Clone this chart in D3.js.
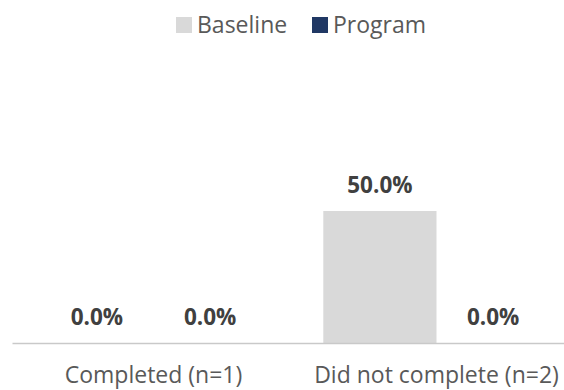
<!DOCTYPE html>
<html>
<head>
<meta charset="utf-8">
<script src="https://cdn.jsdelivr.net/npm/d3@7"></script>
<style>
  body { margin: 0; background: #fff; }
  text { font-family: "Open Sans", sans-serif; }
</style>
</head>
<body>
<div id="chart"></div>
<script>
let categories = ["Completed (n=1)", "Did not complete (n=2)"];
let series = ["Baseline", "Program"];
let baseline = [0.0, 0.5];
let program = [0.0, 0.0];
let colors = ["#d9d9d9", "#203864"];

let width = 564, height = 390;

let data = categories.map(function(c, i) {
    return {cat: c, values: [
        {key: series[0], value: baseline[i]},
        {key: series[1], value: program[i]}
    ]};
});

let svg = d3.select("#chart")
    .append("svg")
    .attr("width", width)
    .attr("height", height);

let x0 = d3.scaleBand()
    .domain(categories)
    .range([12, 578])
    .padding(0);

let x1 = d3.scaleBand()
    .domain(series)
    .range([0, x0.bandwidth() * 0.8]);

let y = d3.scaleLinear()
    .domain([0, 1])
    .range([343, 79]);

let color = d3.scaleOrdinal().domain(series).range(colors);

let groups = svg.selectAll("g.grp")
    .data(data)
    .enter()
    .append("g")
    .attr("class", "grp")
    .attr("transform", d => `translate(${x0(d.cat) + x0.bandwidth() * 0.1}, 0)`);

groups.selectAll("rect")
    .data(d => d.values)
    .enter()
    .append("rect")
    .attr("x", d => x1(d.key))
    .attr("y", d => y(d.value))
    .attr("width", x1.bandwidth())
    .attr("height", d => y(0) - y(d.value))
    .attr("fill", d => color(d.key));

groups.selectAll("text")
    .data(d => d.values)
    .enter()
    .append("text")
    .attr("x", d => x1(d.key) + x1.bandwidth() / 2)
    .attr("y", d => y(d.value) - 18)
    .style("text-anchor", "middle")
    .style("font-size", "22.5px")
    .style("font-weight", "bold")
    .style("fill", "#404040")
    .text(d => (d.value * 100).toFixed(1) + "%");

// x axis
let xAxis = svg.append("g")
    .attr("transform", `translate(0, ${y(0)})`)
    .call(d3.axisBottom(x0).tickSize(0));
xAxis.select(".domain").attr("stroke", "#c9c9c9").attr("stroke-width", 1.5);
xAxis.selectAll("text")
    .attr("y", 40)
    .attr("dy", 0)
    .style("font-size", "23px")
    .style("fill", "#595959")
    .style("font-family", "Open Sans, sans-serif");

// legend
let legend = svg.append("g");
let legendX = [176, 312];
series.forEach(function(s, i) {
    legend.append("rect")
        .attr("x", legendX[i])
        .attr("y", 17)
        .attr("width", 16)
        .attr("height", 16)
        .attr("fill", colors[i]);
    legend.append("text")
        .attr("x", legendX[i] + 21)
        .attr("y", 33)
        .style("font-size", "23px")
        .style("fill", "#595959")
        .text(s);
});
</script>
</body>
</html>
